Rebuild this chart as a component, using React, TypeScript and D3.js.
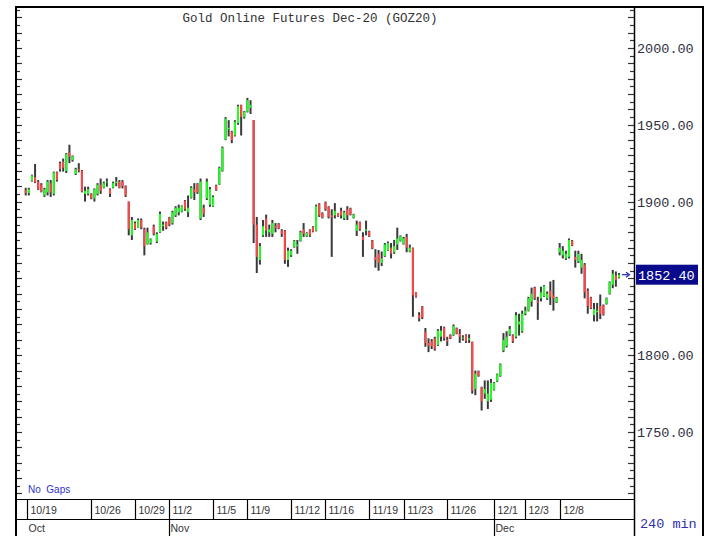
import React, { useRef, useEffect } from "react"
import * as d3 from "d3"

// 240 min bars, [open, high, low, close]
const bars: number[][] = [
  [1907.5, 1909, 1904, 1905.5], [1905.5, 1909, 1904, 1908], [1913.5, 1917.5, 1913, 1917], [1916, 1924.5, 1912, 1912.5],
  [1913, 1914, 1907.5, 1908], [1911, 1912, 1906, 1906.5], [1904, 1909, 1903, 1908], [1906, 1914, 1904, 1913],
  [1912, 1914, 1903, 1906], [1905, 1919.5, 1904, 1919], [1919, 1919.5, 1913, 1914], [1925, 1926, 1919.5, 1921],
  [1926, 1928, 1919.5, 1922], [1920, 1931.6, 1918.6, 1931], [1932, 1937, 1925, 1929], [1927, 1930, 1926, 1929.5],
  [1918, 1922, 1917.3, 1921], [1921, 1925, 1919, 1920], [1920, 1920.6, 1906, 1906.5], [1905, 1909.7, 1900, 1907],
  [1905, 1909.7, 1904, 1908], [1905, 1905.4, 1901.5, 1902], [1902, 1908.6, 1900, 1908], [1905, 1912, 1904, 1911],
  [1911, 1915, 1905, 1907], [1909, 1913, 1908.6, 1912], [1912.5, 1915, 1909.7, 1913], [1908, 1908.6, 1903, 1905],
  [1909, 1913, 1908.6, 1912], [1912, 1916, 1910, 1913], [1913, 1914, 1908.6, 1909], [1913, 1914, 1908.6, 1910],
  [1910, 1910.5, 1903, 1904], [1900, 1900, 1878, 1882], [1878, 1890, 1875, 1888], [1886, 1887, 1881.5, 1882],
  [1883, 1889, 1883, 1888], [1888, 1889, 1882, 1883], [1882, 1883, 1865, 1871], [1872, 1883, 1872, 1880],
  [1873, 1876, 1872, 1875.5], [1884, 1885, 1878, 1879], [1874, 1880, 1873, 1879], [1880, 1893.5, 1879.6, 1892],
  [1884, 1887, 1881, 1885], [1886.5, 1887, 1882, 1883], [1889.5, 1890, 1884, 1885], [1886, 1894, 1885, 1893],
  [1891, 1897, 1890, 1896], [1893, 1898, 1891, 1896], [1893.5, 1897.5, 1893, 1897], [1900.5, 1901, 1894, 1895],
  [1893, 1904, 1890, 1896], [1902.5, 1910, 1902, 1909], [1908, 1912, 1901, 1906], [1911.5, 1912, 1905, 1906],
  [1889, 1915, 1888, 1913], [1896, 1898, 1890, 1892], [1902, 1915, 1901, 1913], [1898, 1909.5, 1896.6, 1908],
  [1897, 1904, 1896.6, 1903], [1910.5, 1911, 1907, 1907.5], [1911, 1922.7, 1910.8, 1922], [1920, 1935.8, 1919.5, 1935],
  [1940.5, 1955, 1940, 1954], [1947, 1953, 1942.4, 1948], [1945.5, 1946, 1938, 1940], [1943, 1953, 1942.4, 1952],
  [1951, 1963, 1950, 1962], [1963, 1963, 1943, 1955], [1955, 1959, 1954, 1958.5], [1958.5, 1967.5, 1958, 1966],
  [1961, 1966, 1957, 1963], [1953, 1953, 1873, 1885], [1885, 1890, 1853.5, 1864], [1862, 1873, 1859, 1871],
  [1878, 1888, 1877, 1884], [1889, 1891.5, 1877, 1881], [1880, 1885, 1877, 1882], [1879, 1888, 1877, 1886],
  [1884, 1886, 1880, 1883], [1885.5, 1886, 1882, 1882.5], [1881, 1882, 1877, 1879], [1881, 1881.5, 1859.5, 1862],
  [1862, 1870, 1857.5, 1868], [1865, 1869, 1864, 1868], [1870.5, 1875, 1870, 1874.5], [1871, 1875, 1866, 1872],
  [1874.5, 1881, 1874, 1880], [1882, 1886, 1877, 1879], [1877.5, 1880, 1877, 1879.5], [1881.5, 1882, 1877, 1878],
  [1883.5, 1884, 1880, 1880.5], [1881, 1898, 1880.6, 1897], [1898.5, 1899, 1890, 1891], [1892.5, 1893, 1889, 1889.5],
  [1899.5, 1900, 1894, 1895], [1896.5, 1897, 1889, 1890], [1891, 1895, 1864, 1890], [1891, 1899, 1889, 1894],
  [1892.5, 1892.6, 1890, 1890.3], [1894, 1896, 1889, 1891], [1889, 1894, 1888, 1893], [1895, 1897, 1888, 1891],
  [1895.5, 1896, 1891, 1891.5], [1889.5, 1892, 1889, 1891.5], [1881, 1887.6, 1877.6, 1885], [1886.5, 1887, 1881, 1882],
  [1877, 1880, 1864, 1875], [1881, 1887.6, 1878, 1882], [1880.5, 1881, 1877, 1877.5], [1874.5, 1875, 1869, 1869.5],
  [1864, 1869, 1857, 1862], [1866, 1868.5, 1855, 1860], [1860, 1867.5, 1858, 1863], [1864.5, 1873, 1864, 1872],
  [1868.5, 1874, 1868, 1873], [1870, 1873, 1863, 1866], [1867, 1875, 1866, 1871], [1872, 1883, 1868.5, 1876],
  [1874.5, 1878, 1874, 1877.5], [1872.5, 1877, 1872, 1876], [1877, 1879, 1867, 1870], [1867.5, 1872, 1867, 1870],
  [1870, 1870, 1825, 1839], [1841, 1841, 1837.5, 1838], [1826, 1828, 1822, 1824], [1831.5, 1832, 1823.5, 1824.5],
  [1815, 1817.7, 1805.5, 1808], [1808, 1811, 1802, 1806], [1809, 1810.5, 1804, 1806], [1811, 1812, 1803, 1804],
  [1806.5, 1817, 1806, 1816], [1812, 1819, 1809, 1816], [1818, 1818.6, 1809.5, 1811], [1810, 1812, 1806, 1809],
  [1813, 1813.6, 1810.5, 1811], [1813, 1820, 1812.6, 1819], [1817.5, 1818, 1813.6, 1814], [1814, 1817, 1808, 1812],
  [1811, 1813, 1809.5, 1811.5], [1813, 1813.6, 1808, 1809], [1810, 1813.6, 1808, 1811], [1808.8, 1808.8, 1775, 1777],
  [1778, 1790, 1774, 1788], [1789.5, 1790, 1786, 1786.5], [1779, 1779.5, 1764, 1770], [1775, 1783.6, 1771.6, 1778],
  [1770, 1783.6, 1765, 1775], [1771, 1784.6, 1769.6, 1782], [1777.5, 1782.5, 1777, 1782], [1783, 1788, 1782.5, 1787.5],
  [1786.5, 1794.6, 1786, 1794], [1803, 1814.4, 1802, 1810], [1806, 1815.6, 1805, 1812], [1813.5, 1819, 1812.6, 1817],
  [1813, 1813.6, 1808, 1809], [1812, 1828, 1811, 1826], [1820, 1827, 1812.8, 1822], [1815.5, 1829, 1814.6, 1827],
  [1827, 1831.6, 1826, 1829], [1829, 1838, 1828.5, 1837], [1835, 1844, 1831.6, 1840], [1844, 1844.6, 1836, 1837],
  [1835, 1838, 1823, 1834], [1837, 1844.6, 1835, 1841], [1838.5, 1845.6, 1838, 1845], [1837, 1841.5, 1836, 1840],
  [1842, 1848, 1832.7, 1838], [1839, 1849, 1829, 1837], [1834.5, 1838, 1834, 1837.5], [1867, 1873, 1865, 1870],
  [1865, 1871, 1863, 1868], [1863, 1868, 1862, 1866], [1864, 1876, 1863, 1875], [1874.5, 1875, 1871, 1871.5],
  [1864, 1868, 1857, 1862], [1861, 1868, 1860, 1866], [1857, 1866, 1853, 1862], [1859, 1860, 1837, 1841],
  [1842, 1843.5, 1827, 1832], [1837.5, 1838, 1830, 1830.5], [1826, 1834, 1822, 1830], [1828, 1834, 1822, 1829],
  [1832, 1839.5, 1823.5, 1827], [1832.5, 1833, 1825.8, 1826.5], [1833.5, 1837.5, 1833, 1837], [1840, 1848, 1839.5, 1847.5],
  [1846, 1855.5, 1843.6, 1853], [1852, 1854.5, 1844.6, 1849], [1850.5, 1853.5, 1850, 1852.4],
]

const dayLabels = ["10/19", "10/26", "10/29", "11/2", "11/5", "11/9", "11/12", "11/16", "11/19", "11/23", "11/26", "12/1", "12/3", "12/8"]
const dayStart = [0, 21, 35, 46, 60, 71, 85, 96, 110, 121, 135, 150, 160, 171]
const monthLabels = ["Oct", "Nov", "Dec"]
const monthStart = [0, 46, 150]
const priceLabels = [2000, 1950, 1900, 1800, 1750]
const lastPrice = 1852.4

export default function App() {
  const svgRef = useRef<SVGSVGElement>(null)

  useEffect(() => {
    var svg = d3.select(svgRef.current)
    svg.selectAll("*").remove()

    var left = 16, right = 634, top = 7, bottom = 499, outerRight = 703, H = 536
    var x = d3.scaleLinear().domain([0, bars.length - 1]).range([25.7, 619])
    var y = d3.scaleLinear().domain([1706.4, 2026]).range([bottom, top + 1])

    svg.append("rect").attr("width", 710).attr("height", 536).attr("fill", "#fff")

    // price ticks on both sides
    var ticks = d3.range(1710, 2026, 5)
    svg.append("g").selectAll("line").data(ticks).enter().append("line")
      .attr("x1", right).attr("x2", d => right - (d % 10 == 0 ? 6 : 4))
      .attr("y1", d => Math.round(y(d)) + 0.5).attr("y2", d => Math.round(y(d)) + 0.5)
      .attr("stroke", "#333").attr("stroke-width", 1.2)
    svg.append("g").selectAll("line").data(ticks).enter().append("line")
      .attr("x1", left).attr("x2", d => left + (d % 10 == 0 ? 6 : 4))
      .attr("y1", d => Math.round(y(d)) + 0.5).attr("y2", d => Math.round(y(d)) + 0.5)
      .attr("stroke", "#333").attr("stroke-width", 1.2)

    // candles: wick and body share the same width
    var g = svg.append("g")
    g.selectAll("rect.wick").data(bars).enter().append("rect")
      .attr("class", "wick")
      .attr("x", (d, i) => x(i) - 1).attr("width", 2)
      .attr("y", d => y(d[1])).attr("height", d => Math.max(1, y(d[2]) - y(d[1])))
      .attr("fill", "#3a3a3a")
    g.selectAll("rect.body").data(bars).enter().append("rect")
      .attr("class", "body")
      .attr("x", (d, i) => x(i) - 1).attr("width", 2)
      .attr("y", d => y(Math.max(d[0], d[3])))
      .attr("height", d => Math.max(1, Math.abs(y(d[0]) - y(d[3]))))
      .attr("fill", d => d[3] >= d[0] ? "#22ff22" : "#ff4646")

    // frame
    var frame = svg.append("g").attr("stroke", "#000").attr("fill", "none")
    frame.append("line").attr("x1", left - 1).attr("x2", outerRight + 1).attr("y1", top).attr("y2", top).attr("stroke-width", 2)
    frame.append("line").attr("x1", left).attr("x2", left).attr("y1", top).attr("y2", H).attr("stroke-width", 2)
    frame.append("line").attr("x1", right + 0.5).attr("x2", right + 0.5).attr("y1", top).attr("y2", H).attr("stroke-width", 1.5)
    frame.append("line").attr("x1", outerRight).attr("x2", outerRight).attr("y1", top).attr("y2", H).attr("stroke-width", 2)
    frame.append("line").attr("x1", left).attr("x2", right).attr("y1", bottom + 0.5).attr("y2", bottom + 0.5).attr("stroke-width", 1.2)
    frame.append("line").attr("x1", left).attr("x2", right).attr("y1", 519.5).attr("y2", 519.5).attr("stroke-width", 1.2)

    // date row
    var dates = svg.append("g")
    dayStart.forEach((s, i) => {
      var xp = Math.round(x(s)) + 0.5 + (i == 0 ? 1 : 0)
      dates.append("line").attr("x1", xp).attr("x2", xp).attr("y1", bottom).attr("y2", 519.5)
        .attr("stroke", "#000").attr("stroke-width", 1.2)
      dates.append("text").attr("x", xp + 3).attr("y", 514)
        .attr("font-family", "Arial, 'Liberation Sans', sans-serif").attr("font-size", "10.5px")
        .attr("fill", "#333").text(dayLabels[i])
    })
    monthStart.forEach((s, i) => {
      var xp = Math.round(x(s)) + 0.5 + (i == 0 ? 1 : 0)
      if (i > 0) {
        dates.append("line").attr("x1", xp).attr("x2", xp).attr("y1", 519.5).attr("y2", H)
          .attr("stroke", "#000").attr("stroke-width", 1.2)
      }
      dates.append("text").attr("x", xp + 1).attr("y", 532)
        .attr("font-family", "Arial, 'Liberation Sans', sans-serif").attr("font-size", "10.5px")
        .attr("fill", "#333").text(monthLabels[i])
    })

    // price labels
    var mono = "'Liberation Mono', 'DejaVu Sans Mono', monospace"
    svg.append("g").selectAll("text").data(priceLabels).enter().append("text")
      .attr("x", 637).attr("y", d => y(d) + 5)
      .attr("font-family", mono).attr("font-size", "13.5px").attr("fill", "#303040")
      .text(d => d.toFixed(2))

    var ly = y(lastPrice)
    svg.append("rect").attr("x", 636).attr("y", ly - 10).attr("width", 62).attr("height", 20).attr("fill", "#0a0a8c")
    svg.append("text").attr("x", 638).attr("y", ly + 5)
      .attr("font-family", mono).attr("font-size", "13.5px").attr("fill", "#fff").text(lastPrice.toFixed(2))
    svg.append("line").attr("x1", 622).attr("x2", 628).attr("y1", ly).attr("y2", ly).attr("stroke", "#2020c0").attr("stroke-width", 1.2)
    svg.append("path").attr("d", `M626,${ly - 2.5}L629.5,${ly}L626,${ly + 2.5}`).attr("fill", "none").attr("stroke", "#2020c0").attr("stroke-width", 1.2)

    svg.append("text").attr("x", 310).attr("y", 22).attr("text-anchor", "middle")
      .attr("font-family", mono).attr("font-size", "12.5px").attr("fill", "#333")
      .text("Gold Online Futures Dec-20 (GOZ20)")

    svg.append("text").attr("x", 28).attr("y", 493)
      .attr("font-family", "Arial, 'Liberation Sans', sans-serif").attr("font-size", "10px")
      .attr("fill", "#3030d0").attr("xml:space", "preserve").style("white-space", "pre").text("No  Gaps")

    svg.append("text").attr("x", 640).attr("y", 528)
      .attr("font-family", mono).attr("font-size", "13.5px").attr("fill", "#3030b0").text("240 min")
  }, [])

  return (
    <svg ref={svgRef} width={710} height={536} style={{ position: "absolute", left: 0, top: 0 }}></svg>
  )
}
